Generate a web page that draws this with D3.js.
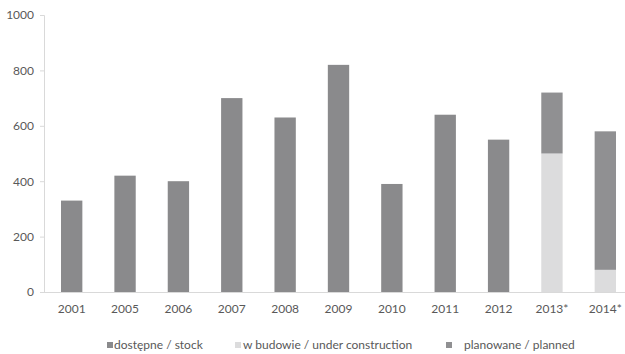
<!DOCTYPE html>
<html><head><meta charset="utf-8">
<script src="https://cdn.jsdelivr.net/npm/d3@7"></script>
<style>body{margin:0;background:#fff}text{font-family:Lato,"Open Sans",sans-serif}</style>
</head><body><svg id="c" width="625" height="354"></svg>
<script>
const categories = ["2001","2005","2006","2007","2008","2009","2010","2011","2012","2013*","2014*"];
const stock = [330,420,400,700,630,820,390,640,550,0,0];
const underConstruction = [0,0,0,0,0,0,0,0,0,500,80];
const planned = [0,0,0,0,0,0,0,0,0,220,500];
const yTicks = [0,200,400,600,800,1000];
const seriesNames = ["dostępne / stock","w budowie / under construction","planowane / planned"];
const colors = ["#8a8a8c","#dcdcdd","#909092"];

const svg = d3.select("#c");
const x = d3.scaleBand().domain(categories).range([45,632]).paddingInner(0.6).paddingOuter(0.3);
const y = d3.scaleLinear().domain([0,1000]).range([292,15]);

const rows = categories.map((c,i)=>({cat:c, s0:stock[i], s1:underConstruction[i], s2:planned[i]}));
const stacked = d3.stack().keys(["s0","s1","s2"])(rows);

// axes
const ya = svg.append("g").attr("transform","translate(44,0)")
  .call(d3.axisLeft(y).tickValues(yTicks).tickFormat(d3.format("d")).tickSize(4).tickPadding(6));
const xa = svg.append("g").attr("transform","translate(0,292)")
  .call(d3.axisBottom(x).tickSize(0).tickPadding(12));
[ya,xa].forEach(g=>{
  g.selectAll("path,line").attr("stroke","#d9d9d9");
  g.selectAll("text").attr("fill","#595959").style("font-size","12px");
});
xa.select(".domain").attr("d","M44,0.5H625");

svg.append("g").selectAll("g").data(stacked).join("g")
  .attr("fill",(d,i)=>colors[i])
  .selectAll("rect").data(d=>d).join("rect")
  .attr("x",d=>x(d.data.cat)).attr("width",x.bandwidth())
  .attr("y",d=>y(d[1])).attr("height",d=>y(d[0])-y(d[1]));

// legend
const lg = [{sx:107,tx:114},{sx:235,tx:243},{sx:446,tx:464}];
const leg = svg.append("g");
lg.forEach((p,i)=>{
  leg.append("rect").attr("x",p.sx).attr("y",342).attr("width",6).attr("height",6).attr("fill",colors[i]);
  leg.append("text").attr("x",p.tx).attr("y",349).attr("fill","#595959").style("font-size","12px").text(seriesNames[i]);
});
</script></body></html>
